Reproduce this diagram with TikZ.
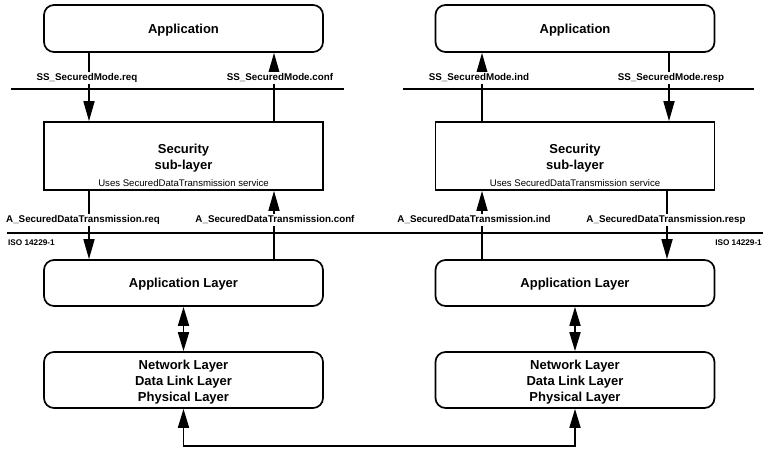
\documentclass[tikz,border=0pt]{standalone}
\usepackage{fontspec}
\setmainfont{Liberation Sans}
\usetikzlibrary{arrows.meta}
\begin{document}
\begin{tikzpicture}[x=1pt,y=-1pt,
  lw/.style={line width=1.7pt},
  rbox/.style={draw,lw,rounded corners=10pt,minimum width=279pt,inner sep=0pt,align=center,font=\fontsize{13}{16}\selectfont\bfseries},
  sbox/.style={draw,lw,minimum width=279pt,minimum height=68pt,inner sep=0pt,align=center,font=\fontsize{13}{16}\selectfont\bfseries},
  arr/.style={lw,-{Triangle[length=20pt,width=11pt]}},
  darr/.style={lw,{Triangle[length=19pt,width=11pt]}-{Triangle[length=19pt,width=11pt]}},
  lbl/.style={fill=white,inner sep=1.5pt,font=\fontsize{9.8}{11}\selectfont\bfseries},
  uses/.style={inner sep=0pt,font=\fontsize{9.6}{11}\selectfont},
  iso/.style={inner sep=0pt,font=\fontsize{8.2}{10}\selectfont\bfseries},
  sep/.style={lw}]
\useasboundingbox[fill=white] (0,0) rectangle (768,451);
% boxes
\node[rbox,minimum height=47pt,text depth=0pt] (app1) at (183.5,28.5) {Application};
\node[rbox,minimum height=47pt,text depth=0pt] (app2) at (575,28.5) {Application};
\node[sbox] (sec1) at (183.5,156) {\rule{0pt}{13pt}Security\\sub-layer};
\node[sbox] (sec2) at (575,156) {\rule{0pt}{13pt}Security\\sub-layer};
\node[uses] (use1) at (183.5,183) {Uses SecuredDataTransmission service};
\node[uses] (use2) at (575,183) {Uses SecuredDataTransmission service};
\node[rbox,minimum height=46pt,text depth=0pt] (al1) at (183.5,283) {Application Layer};
\node[rbox,minimum height=46pt,text depth=0pt] (al2) at (575,283) {Application Layer};
\node[rbox,minimum height=56pt] (ll1) at (183.5,380) {\rule{0pt}{13pt}Network Layer\\Data Link Layer\\Physical Layer};
\node[rbox,minimum height=56pt] (ll2) at (575,380) {\rule{0pt}{13pt}Network Layer\\Data Link Layer\\Physical Layer};
% separator lines
\coordinate (s1a) at (11,89); \coordinate (s1b) at (344,89);
\coordinate (s2a) at (403,89); \coordinate (s2b) at (754,89);
\coordinate (isoa) at (7,233); \coordinate (isob) at (763,233);
\draw[sep] (s1a) -- (s1b);
\draw[sep] (s2a) -- (s2b);
\draw[sep] (isoa) -- (isob);
% primitive arrows (upper)
\draw[arr] ([xshift=-94.5pt]app1.south) -- ([xshift=-94.5pt]sec1.north);
\draw[arr] ([xshift=90.5pt]sec1.north) -- ([xshift=90.5pt]app1.south);
\draw[arr] ([xshift=-93pt]sec2.north) -- ([xshift=-93pt]app2.south);
\draw[arr] ([xshift=94pt]app2.south) -- ([xshift=94pt]sec2.north);
% primitive arrows (lower)
\draw[arr] ([xshift=-94.5pt]sec1.south) -- ([xshift=-94.5pt]al1.north);
\draw[arr] ([xshift=90.5pt]al1.north) -- ([xshift=90.5pt]sec1.south);
\draw[arr] ([xshift=-93pt]al2.north) -- ([xshift=-93pt]sec2.south);
\draw[arr] ([xshift=92pt]sec2.south) -- ([xshift=92pt]al2.north);
% labels
\node[lbl] (l1) at (87,78) {SS\_SecuredMode.req};
\node[lbl] (l2) at (280,78) {SS\_SecuredMode.conf};
\node[lbl] (l3) at (479,78) {SS\_SecuredMode.ind};
\node[lbl] (l4) at (671,78) {SS\_SecuredMode.resp};
\node[lbl] (l5) at (83,220) {A\_SecuredDataTransmission.req};
\node[lbl] (l6) at (275,220) {A\_SecuredDataTransmission.conf};
\node[lbl] (l7) at (474,220) {A\_SecuredDataTransmission.ind};
\node[lbl] (l8) at (666,220) {A\_SecuredDataTransmission.resp};
\node[iso,anchor=west] (iso1) at (8,243) {ISO 14229-1};
\node[iso,anchor=east] (iso2) at (762,243) {ISO 14229-1};
% layer links
\draw[darr] (al1.south) -- (ll1.north);
\draw[darr] (al2.south) -- (ll2.north);
\draw[darr] (ll1.south) -- ++(0,37) -| (ll2.south);
\end{tikzpicture}
\end{document}
